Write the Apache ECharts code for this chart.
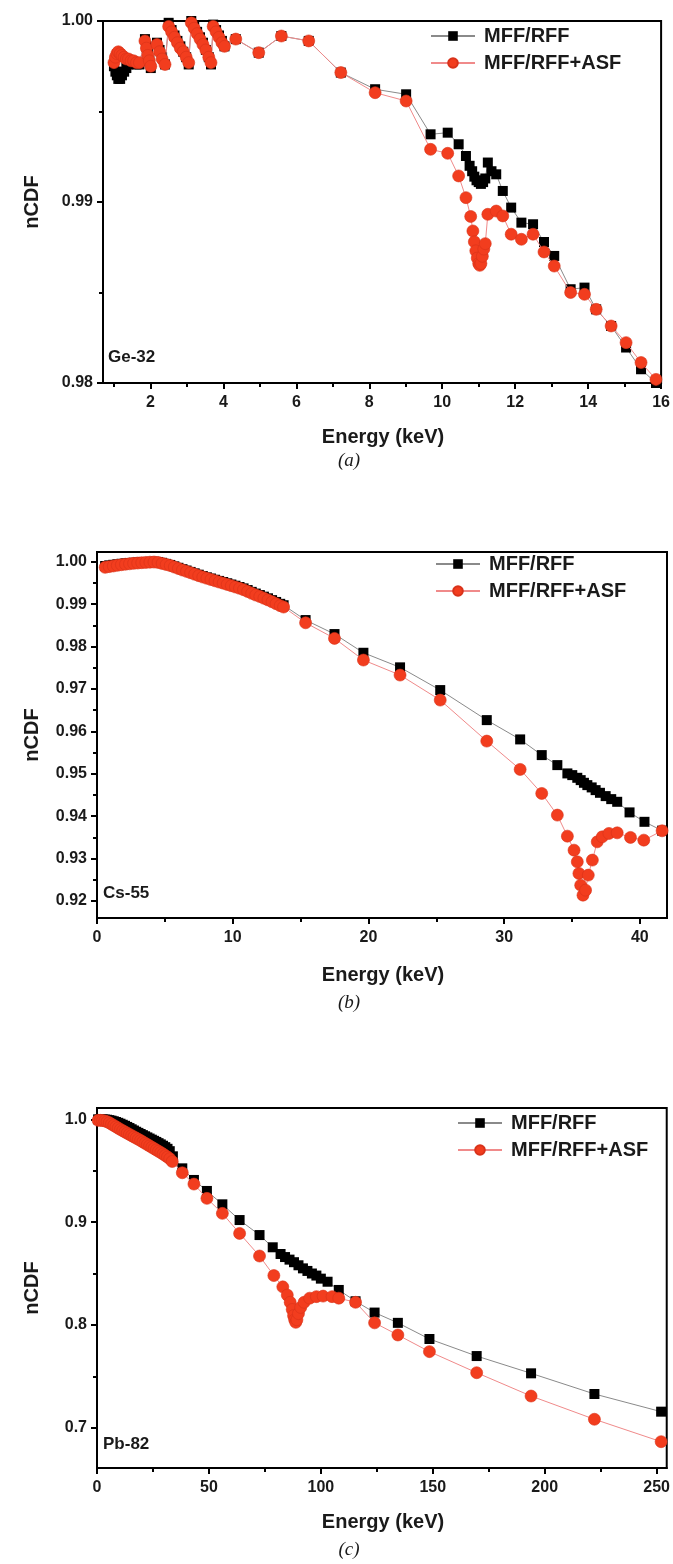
<!DOCTYPE html>
<html>
<head>
<meta charset="utf-8">
<script src="https://cdn.jsdelivr.net/npm/echarts@6/dist/echarts.min.js"></script>
<style>
html,body{margin:0;padding:0;background:#fff;}
#chart{width:673px;height:1564px;}
</style>
</head>
<body>
<div id="chart"></div>
<script>
// ---------- Panel (a) Ge-32 ----------
const geBlack = [[1.00,0.9975],[1.04,0.9972],[1.08,0.9970],[1.12,0.9968],[1.17,0.9968],[1.22,0.9970],[1.28,0.9972],[1.34,0.9974],[1.40,0.9976],[1.47,0.9977],[1.54,0.9977],[1.62,0.9976],[1.70,0.9976],
[1.85,0.9990],[1.89,0.9986],[1.93,0.9982],[1.97,0.9978],[2.01,0.9974],
[2.18,0.9988],[2.25,0.9984],[2.32,0.9980],[2.40,0.9976],
[2.50,0.9999],[2.58,0.9995],[2.66,0.9992],[2.74,0.9989],[2.82,0.9986],[2.90,0.9983],[2.98,0.9980],[3.05,0.9976],
[3.12,1.0000],[3.20,0.9997],[3.28,0.9994],[3.36,0.9991],[3.44,0.9988],[3.52,0.9984],[3.60,0.9980],[3.66,0.9976],
[3.72,0.9998],[3.80,0.9995],[3.88,0.9992],[3.96,0.9989],[4.03,0.9986],
[4.34,0.9990],[4.97,0.99825],[5.59,0.99917],[6.34,0.9989],[7.22,0.99715],[8.16,0.99623],[9.01,0.99595],[9.68,0.99374],[10.15,0.99383],[10.45,0.99319],[10.65,0.99254],
[10.75,0.9920],[10.82,0.9917],[10.88,0.9914],[10.94,0.9912],[11.00,0.9911],[11.06,0.9910],[11.12,0.9911],[11.18,0.9913],[11.25,0.99218],[11.35,0.9917],[11.48,0.99153],[11.66,0.99061],[11.89,0.98969],[12.17,0.98886],[12.49,0.98877],[12.79,0.98779],[13.07,0.98702],[13.52,0.98518],[13.90,0.98527],[14.22,0.98407],[14.63,0.98315],[15.04,0.98196],[15.45,0.98076],[15.86,0.9800]];
const geRed = [[1.00,0.9977],[1.04,0.9980],[1.08,0.9982],[1.12,0.9983],[1.17,0.9982],[1.22,0.9981],[1.28,0.9980],[1.34,0.9979],[1.40,0.9979],[1.47,0.9978],[1.54,0.9978],[1.62,0.9977],[1.70,0.9977],
[1.85,0.9989],[1.89,0.9985],[1.93,0.9981],[1.97,0.9978],[2.01,0.9975],
[2.18,0.9987],[2.25,0.9983],[2.32,0.9979],[2.40,0.9976],
[2.50,0.9997],[2.58,0.9994],[2.66,0.9991],[2.74,0.9988],[2.82,0.9985],[2.90,0.9983],[2.98,0.9980],[3.05,0.9977],
[3.12,0.9999],[3.20,0.9996],[3.28,0.9993],[3.36,0.9990],[3.44,0.9987],[3.52,0.9984],[3.60,0.9980],[3.66,0.9977],
[3.72,0.9997],[3.80,0.9994],[3.88,0.9991],[3.96,0.9988],[4.03,0.9986],
[4.34,0.9990],[4.97,0.99825],[5.59,0.99917],[6.34,0.9989],[7.22,0.99715],[8.16,0.99604],[9.01,0.99558],[9.68,0.99291],[10.15,0.99269],[10.45,0.99144],[10.65,0.99024],
[10.78,0.9892],[10.84,0.9884],[10.88,0.9878],[10.92,0.9873],[10.96,0.9869],[11.00,0.9866],[11.03,0.9865],[11.06,0.9866],[11.10,0.9870],[11.14,0.9874],[11.18,0.9877],[11.25,0.98932],[11.48,0.9895],[11.66,0.98923],[11.89,0.98822],[12.17,0.98794],[12.49,0.98822],[12.79,0.98724],[13.07,0.98646],[13.52,0.9850],[13.90,0.9849],[14.22,0.98407],[14.63,0.98315],[15.04,0.98223],[15.45,0.98113],[15.86,0.9802]];
const geXMajor = [2,4,6,8,10,12,14,16];
const geXMinor = [1,3,5,7,9,11,13,15];
const geYMajor = [0.98,0.99,1.00];
const geYMinor = [0.985,0.995];

// ---------- Panel (b) Cs-55 ----------
const csBlack = [[0.6,0.99900],[0.9,0.99915],[1.2,0.99928],[1.5,0.99940],[1.8,0.99952],[2.1,0.99962],[2.4,0.99970],[2.7,0.99977],[3.0,0.99983],[3.3,0.99988],[3.6,0.99993],[3.9,0.99997],[4.2,1.00000],[4.5,0.99995],[4.8,0.99975],[5.1,0.99950],[5.4,0.99925],[5.7,0.99892],[6.0,0.99858],[6.3,0.99825],[6.6,0.99793],[6.9,0.99760],[7.2,0.99727],[7.5,0.99695],[7.8,0.99662],[8.1,0.99633],[8.4,0.99605],[8.7,0.99576],[9.0,0.99548],[9.3,0.99522],[9.6,0.99493],[9.9,0.99463],[10.2,0.99435],[10.5,0.99405],[10.8,0.99372],[11.1,0.99333],[11.4,0.99290],[11.7,0.99250],[12.0,0.99215],[12.3,0.99177],[12.6,0.99138],[12.9,0.99095],[13.2,0.99052],[13.5,0.99008],[13.75,0.98975],
[15.37,0.98625],[17.5,0.98295],[19.63,0.97854],[22.33,0.9751],[25.29,0.96974],[28.72,0.96266],[31.18,0.95811],[32.77,0.95441],[33.92,0.95205],
[34.66,0.95009],[35.02,0.94969],[35.39,0.94906],[35.64,0.94851],[35.88,0.94788],[36.13,0.94733],[36.45,0.94679],[36.74,0.94615],[37.06,0.94552],[37.48,0.94474],[37.89,0.94403],[38.33,0.9434],[39.24,0.9409],[40.34,0.93868],[41.64,0.9366]];
const csRed = [[0.6,0.99868],[0.9,0.99885],[1.2,0.99900],[1.5,0.99915],[1.8,0.99930],[2.1,0.99942],[2.4,0.99952],[2.7,0.99962],[3.0,0.99970],[3.3,0.99978],[3.6,0.99985],[3.9,0.99990],[4.2,0.99993],[4.5,0.99985],[4.8,0.99960],[5.1,0.99935],[5.4,0.99910],[5.7,0.99875],[6.0,0.99840],[6.3,0.99805],[6.6,0.99773],[6.9,0.99740],[7.2,0.99705],[7.5,0.99672],[7.8,0.99639],[8.1,0.99610],[8.4,0.99580],[8.7,0.99550],[9.0,0.99522],[9.3,0.99495],[9.6,0.99465],[9.9,0.99435],[10.2,0.99405],[10.5,0.99375],[10.8,0.99340],[11.1,0.99300],[11.4,0.99255],[11.7,0.99215],[12.0,0.99180],[12.3,0.99140],[12.6,0.99100],[12.9,0.99055],[13.2,0.99010],[13.5,0.98965],[13.75,0.98932],
[15.37,0.98561],[17.5,0.98193],[19.63,0.97682],[22.33,0.97328],[25.29,0.96738],[28.72,0.95771],[31.18,0.95104],[32.77,0.94537],[33.92,0.94026],
[34.66,0.9353],[35.15,0.9320],[35.39,0.92925],[35.51,0.92651],[35.64,0.92375],[35.81,0.92139],[36.0,0.92257],[36.2,0.92611],[36.5,0.92965],[36.86,0.93396],[37.23,0.93514],[37.72,0.93594],[38.33,0.93608],[39.31,0.9350],[40.29,0.93436],[41.64,0.93656]];
const csYMajor = [0.92,0.93,0.94,0.95,0.96,0.97,0.98,0.99,1.00];
const csYMinor = [0.925,0.935,0.945,0.955,0.965,0.975,0.985,0.995];

// ---------- Panel (c) Pb-82 ----------
const pbBlack = [[0.5,1.000],[1.5,1.000],[2.5,1.000],[3.5,0.9998],[4.5,0.9996],[5.5,0.9992],[6.5,0.9987],[7.5,0.9981],[8.5,0.9974],[9.5,0.9966],[10.5,0.9957],[11.5,0.9947],[12.5,0.9937],[13.5,0.9926],[14.5,0.9915],[15.5,0.9903],[16.5,0.9891],[17.5,0.9879],[18.5,0.9868],[19.5,0.9857],[20.5,0.9846],[21.5,0.9835],[22.5,0.9824],[23.5,0.9813],[24.5,0.9802],[25.5,0.9791],[26.5,0.9780],[27.5,0.9768],[28.5,0.9756],[29.5,0.9743],[30.5,0.9729],[31.5,0.9713],[32.5,0.9690],[33.9,0.9640],
[38.1,0.9523],[43.3,0.941],[49.1,0.9303],[56.0,0.9173],[63.7,0.902],[72.6,0.8874],[78.5,0.8755],[82,0.869],[84,0.866],[86,0.8635],[88,0.861],[90,0.858],[92,0.855],[94,0.8525],[96,0.850],[98,0.848],[100,0.845],[103,0.842],[108,0.834],[115.5,0.823],[124,0.812],[134.4,0.802],[148.5,0.7863],[169.6,0.7697],[193.9,0.7529],[222.2,0.7328],[252,0.7156]];
const pbRed = [[0.5,0.9990],[1.5,0.9990],[2.5,0.9988],[3.5,0.9984],[4.5,0.9977],[5.5,0.9966],[6.5,0.9953],[7.5,0.9940],[8.5,0.9927],[9.5,0.9914],[10.5,0.9901],[11.5,0.9889],[12.5,0.9877],[13.5,0.9865],[14.5,0.9853],[15.5,0.9841],[16.5,0.9829],[17.5,0.9817],[18.5,0.9805],[19.5,0.9793],[20.5,0.9780],[21.5,0.9767],[22.5,0.9754],[23.5,0.9741],[24.5,0.9728],[25.5,0.9715],[26.5,0.9702],[27.5,0.9689],[28.5,0.9676],[29.5,0.9662],[30.5,0.9648],[31.5,0.9633],[32.5,0.9617],[33.6,0.9590],
[38.1,0.948],[43.3,0.937],[49.1,0.9231],[56.0,0.9085],[63.7,0.889],[72.6,0.867],[79,0.848],[83,0.837],[85,0.829],[86.3,0.822],[87.2,0.815],[87.8,0.809],[88.3,0.805],[88.8,0.8025],[89.3,0.805],[90,0.811],[91,0.817],[92.5,0.822],[95,0.826],[98,0.8275],[101,0.828],[105,0.8275],[108,0.826],[115.5,0.822],[124,0.802],[134.4,0.7902],[148.5,0.774],[169.6,0.7535],[193.9,0.7308],[222.2,0.7082],[252,0.6864]];
const pbYMajor = [0.7,0.8,0.9,1.0];
const pbYMinor = [0.75,0.85,0.95];

const csXMajor = [0,10,20,30,40];
const csXMinor = [5,15,25,35];
const pbXMajor = [0,50,100,150,200,250];
const pbXMinor = [25,75,125,175,225];

const seriesNames = ['MFF/RFF','MFF/RFF+ASF'];
const panelLabels = ['Ge-32','Cs-55','Pb-82'];
const captions = ['(a)','(b)','(c)'];

// ---------- layout ----------
const grids = [
  {left:103, top:21,   width:560, height:362},
  {left:97,  top:552,  width:570, height:366},
  {left:97,  top:1108, width:570, height:360}
];
const FONT = '"Liberation Sans", Arial, sans-serif';
const labelStyle = {fontFamily:FONT, fontWeight:'bold', fontSize:16, color:'#1a1a1a'};

function majorX(gi, min, max, ticks) {
  return {type:'value', gridIndex:gi, min:min, max:max, position:'bottom',
    axisLine:{show:true, onZero:false, lineStyle:{color:'#000', width:2}},
    axisTick:{show:true, inside:false, length:6, lineStyle:{color:'#000', width:2}, customValues:ticks},
    axisLabel:Object.assign({show:true, margin:12, customValues:ticks, formatter:v=>String(Math.round(v))}, labelStyle),
    splitLine:{show:false}};
}
function minorX(gi, min, max, ticks) {
  return {type:'value', gridIndex:gi, min:min, max:max, position:'bottom',
    axisLine:{show:false, onZero:false},
    axisTick:{show:true, inside:false, length:4, lineStyle:{color:'#000', width:2}, customValues:ticks},
    axisLabel:{show:false}, splitLine:{show:false}};
}
function majorY(gi, min, max, ticks, dec) {
  return {type:'value', gridIndex:gi, min:min, max:max, position:'left', scale:true,
    axisLine:{show:true, onZero:false, lineStyle:{color:'#000', width:2}},
    axisTick:{show:true, inside:false, length:6, lineStyle:{color:'#000', width:2}, customValues:ticks},
    axisLabel:Object.assign({show:true, margin:10, customValues:ticks, formatter:v=>v.toFixed(dec)}, labelStyle),
    splitLine:{show:false}};
}
function minorY(gi, min, max, ticks) {
  return {type:'value', gridIndex:gi, min:min, max:max, position:'left', scale:true,
    axisLine:{show:false, onZero:false},
    axisTick:{show:true, inside:false, length:4, lineStyle:{color:'#000', width:2}, customValues:ticks},
    axisLabel:{show:false}, splitLine:{show:false}};
}

const xAxes = [
  majorX(0, 0.7, 16, geXMajor), minorX(0, 0.7, 16, geXMinor),
  majorX(1, 0, 42, csXMajor),   minorX(1, 0, 42, csXMinor),
  majorX(2, 0, 254.5, pbXMajor), minorX(2, 0, 254.5, pbXMinor)
];
const yAxes = [
  majorY(0, 0.98, 1.00, geYMajor, 2), minorY(0, 0.98, 1.00, geYMinor),
  majorY(1, 0.916, 1.0023, csYMajor, 2), minorY(1, 0.916, 1.0023, csYMinor),
  majorY(2, 0.6608, 1.011, pbYMajor, 1), minorY(2, 0.6608, 1.011, pbYMinor)
];

function blackSeries(data, i) {
  return {name:seriesNames[0], type:'line', xAxisIndex:i*2, yAxisIndex:i*2, data:data,
    symbol:'rect', symbolSize:10, clip:false, z:2,
    itemStyle:{color:'#000'}, lineStyle:{color:'#8a8a8a', width:1}};
}
function redSeries(data, i) {
  return {name:seriesNames[1], type:'line', xAxisIndex:i*2, yAxisIndex:i*2, data:data,
    symbol:'circle', symbolSize:12, clip:false, z:3,
    itemStyle:{color:'#f23d1e', borderColor:'#d8321a', borderWidth:0.6},
    lineStyle:{color:'#f08a8a', width:1}};
}

const legendPos = [{left:430, top:26}, {left:435, top:554}, {left:457, top:1113}];
const legends = legendPos.map(p => ({
  left:p.left, top:p.top, orient:'vertical', padding:0, itemGap:7, itemWidth:44, itemHeight:12,
  selectedMode:false, data:seriesNames,
  textStyle:{fontFamily:FONT, fontWeight:'bold', fontSize:20, color:'#1a1a1a', padding:[0,0,0,4]}
}));

const graphics = [];
const nameY = [202, 735, 1288];
const energyY = [437, 975, 1522];
const capY = [461, 1003, 1550];
const tagPos = [[108,357],[103,893],[103,1444]];
for (let i=0;i<3;i++) {
  graphics.push({type:'text', x:32, y:nameY[i], rotation:Math.PI/2,
    style:{text:'nCDF', font:'bold 20px '+FONT, fill:'#1a1a1a', textAlign:'center', textVerticalAlign:'middle'}});
  graphics.push({type:'text', x:383, y:energyY[i],
    style:{text:'Energy (keV)', font:'bold 20px '+FONT, fill:'#1a1a1a', textAlign:'center', textVerticalAlign:'middle'}});
  graphics.push({type:'text', x:349, y:capY[i],
    style:{text:captions[i], font:'italic 19px "Liberation Serif", "Times New Roman", serif', fill:'#1a1a1a', textAlign:'center', textVerticalAlign:'middle'}});
  graphics.push({type:'text', x:tagPos[i][0], y:tagPos[i][1],
    style:{text:panelLabels[i], font:'bold 17px '+FONT, fill:'#1a1a1a', textAlign:'left', textVerticalAlign:'middle'}});
}

const option = {
  animation:false,
  backgroundColor:'#fff',
  grid: grids.map(g => Object.assign({show:true, borderColor:'#000', borderWidth:2, containLabel:false}, g)),
  xAxis: xAxes,
  yAxis: yAxes,
  legend: legends,
  graphic: graphics,
  series: [
    blackSeries(geBlack,0), redSeries(geRed,0),
    blackSeries(csBlack,1), redSeries(csRed,1),
    blackSeries(pbBlack,2), redSeries(pbRed,2)
  ]
};
const chart = echarts.init(document.getElementById('chart'), null, {renderer:'canvas'});
chart.setOption(option);
</script>
</body>
</html>
